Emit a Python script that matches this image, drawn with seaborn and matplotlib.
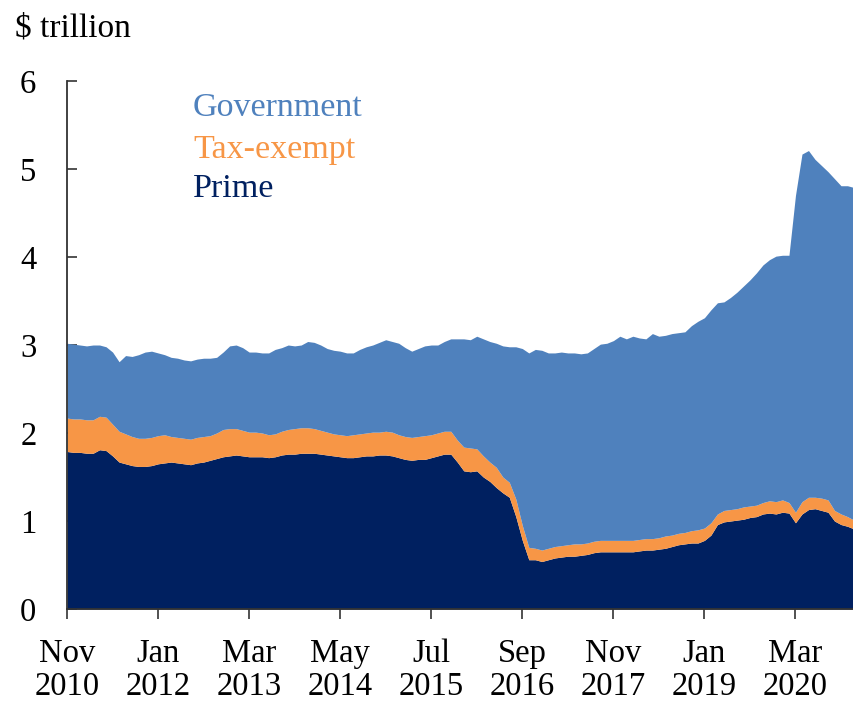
import numpy as np
import pandas as pd
import seaborn as sns
import matplotlib.pyplot as plt

sns.set_theme(style="ticks")
plt.rcParams["font.family"] = ["Liberation Serif", "DejaVu Serif"]
plt.rcParams["text.color"] = "black"
plt.rcParams["xtick.labelcolor"] = "black"
plt.rcParams["ytick.labelcolor"] = "black"

# Monthly money market fund assets, $ trillion, Nov 2010 - Dec 2020
months = pd.date_range("2010-11-01", periods=122, freq="MS")

total = [
    3.02, 3.01, 3.00, 2.99, 3.00, 3.00, 2.98, 2.92, 2.81, 2.88,
    2.87, 2.89, 2.92, 2.93, 2.91, 2.89, 2.86, 2.85, 2.83, 2.82,
    2.84, 2.85, 2.85, 2.86, 2.92, 2.99, 3.00, 2.97, 2.92, 2.92,
    2.91, 2.91, 2.95, 2.97, 3.00, 2.99, 3.00, 3.04, 3.03, 3.00,
    2.96, 2.94, 2.93, 2.91, 2.91, 2.95, 2.98, 3.00, 3.03, 3.06,
    3.04, 3.02, 2.97, 2.93, 2.96, 2.99, 3.00, 3.00, 3.04, 3.07,
    3.07, 3.07, 3.06, 3.10, 3.07, 3.04, 3.02, 2.99, 2.98, 2.98,
    2.96, 2.91, 2.95, 2.94, 2.91, 2.91, 2.92, 2.91, 2.91, 2.90,
    2.91, 2.96, 3.01, 3.02, 3.05, 3.10, 3.07, 3.10, 3.08, 3.07,
    3.13, 3.10, 3.11, 3.13, 3.14, 3.15, 3.22, 3.27, 3.31, 3.40,
    3.48, 3.49, 3.54, 3.60, 3.67, 3.74, 3.82, 3.91, 3.97, 4.01,
    4.02, 4.02, 4.70, 5.17, 5.21, 5.11, 5.04, 4.97, 4.89, 4.81,
    4.81, 4.79,
]

prime = [
    1.79, 1.78, 1.78, 1.77, 1.77, 1.81, 1.80, 1.74, 1.67, 1.65,
    1.63, 1.62, 1.62, 1.63, 1.65, 1.66, 1.67, 1.66, 1.65, 1.64,
    1.66, 1.67, 1.69, 1.71, 1.73, 1.74, 1.75, 1.74, 1.73, 1.73,
    1.73, 1.72, 1.73, 1.75, 1.76, 1.76, 1.77, 1.77, 1.77, 1.76,
    1.75, 1.74, 1.73, 1.72, 1.72, 1.73, 1.74, 1.74, 1.75, 1.75,
    1.74, 1.72, 1.70, 1.69, 1.70, 1.70, 1.72, 1.74, 1.76, 1.76,
    1.67, 1.57, 1.56, 1.57, 1.50, 1.45, 1.38, 1.32, 1.27, 1.05,
    0.78, 0.56, 0.56, 0.54, 0.56, 0.58, 0.59, 0.60, 0.60, 0.61,
    0.62, 0.64, 0.65, 0.65, 0.65, 0.65, 0.65, 0.65, 0.66, 0.67,
    0.67, 0.68, 0.69, 0.71, 0.73, 0.74, 0.75, 0.75, 0.78, 0.84,
    0.96, 0.99, 1.00, 1.01, 1.02, 1.04, 1.05, 1.08, 1.09, 1.08,
    1.10, 1.09, 0.98, 1.08, 1.13, 1.14, 1.12, 1.10, 1.00, 0.96,
    0.94, 0.91,
]

prime_plus_tax_exempt = [
    2.17, 2.16, 2.16, 2.15, 2.15, 2.19, 2.18, 2.10, 2.02, 1.99,
    1.96, 1.94, 1.94, 1.95, 1.97, 1.98, 1.96, 1.95, 1.94, 1.93,
    1.95, 1.96, 1.97, 2.00, 2.04, 2.05, 2.05, 2.03, 2.01, 2.01,
    2.00, 1.98, 1.99, 2.02, 2.04, 2.05, 2.06, 2.06, 2.05, 2.03,
    2.01, 1.99, 1.98, 1.97, 1.98, 1.99, 2.00, 2.01, 2.01, 2.02,
    2.01, 1.98, 1.96, 1.95, 1.96, 1.97, 1.98, 2.00, 2.02, 2.02,
    1.92, 1.84, 1.83, 1.82, 1.74, 1.67, 1.61, 1.50, 1.44, 1.25,
    0.95, 0.70, 0.69, 0.67, 0.69, 0.71, 0.72, 0.73, 0.74, 0.74,
    0.75, 0.77, 0.78, 0.78, 0.78, 0.78, 0.78, 0.78, 0.79, 0.80,
    0.80, 0.81, 0.83, 0.84, 0.86, 0.87, 0.89, 0.90, 0.92, 0.98,
    1.08, 1.12, 1.13, 1.14, 1.16, 1.17, 1.18, 1.21, 1.23, 1.22,
    1.24, 1.21, 1.10, 1.22, 1.27, 1.27, 1.26, 1.24, 1.12, 1.08,
    1.05, 1.01,
]

df = pd.DataFrame({"month": months, "total": total, "prime": prime,
                   "pt": prime_plus_tax_exempt})
df["Prime"] = df["prime"]
df["Tax-exempt"] = df["pt"] - df["prime"]
df["Government"] = df["total"] - df["pt"]

series = ["Prime", "Tax-exempt", "Government"]
colors = {"Prime": "#002060", "Tax-exempt": "#F79646", "Government": "#4F81BD"}

fig = plt.figure(figsize=(8.54, 7.07), dpi=100)
ax = fig.add_axes([0.0785, 0.1386, 0.9215, 0.7468])

x = np.arange(len(df))
ax.stackplot(x, [df[s] for s in series],
             colors=[colors[s] for s in series], linewidth=0)

ax.set_xlim(0, len(df) - 1)
ax.set_ylim(0, 6)
ax.set_yticks(range(0, 7))
tick_pos = list(range(0, len(df), 14))
ax.set_xticks(tick_pos)
ax.set_xticklabels([months[i].strftime("%b\n%Y") for i in tick_pos],
                   linespacing=1.12)

sns.despine(ax=ax)
for s in ["left", "bottom"]:
    ax.spines[s].set_color("#333333")
    ax.spines[s].set_linewidth(1.3)
    ax.spines[s].set_zorder(5)
ax.tick_params(axis="y", direction="in", length=7, width=1.2,
               color="#333333", pad=22, labelsize=23.5)
ax.tick_params(axis="x", direction="out", length=7, width=1.2,
               color="#333333", pad=14, labelsize=23.5)
ax.grid(False)

fig.text(0.0176, 0.948, "$ trillion", fontsize=24, ha="left",
         va="baseline", color="black")

legend_rows = [("Government", 0.934), ("Tax-exempt", 0.855), ("Prime", 0.780)]
for name, yy in legend_rows:
    ax.text(0.16, yy, name, transform=ax.transAxes, fontsize=24.5,
            color=colors[name], ha="left", va="baseline")

fig.savefig("out.png", dpi=100)
